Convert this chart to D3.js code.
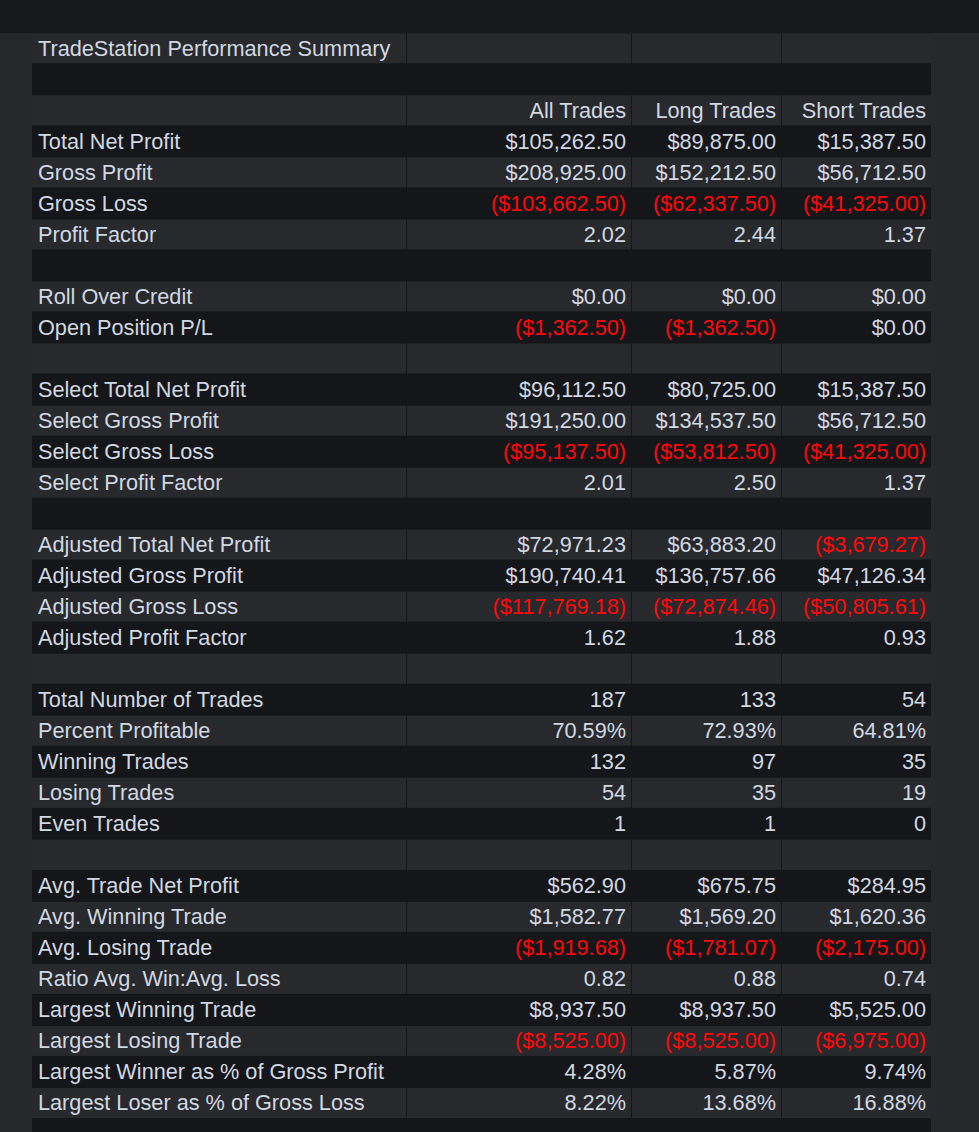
<!DOCTYPE html>
<html lang="en">
<head>
    <meta charset="UTF-8">
    <title>TradeStation Performance Summary</title>
    <script src="https://d3js.org/d3.v7.min.js"></script>
    <style>
        html, body {
            margin: 0;
            padding: 0;
            background: #18191c;
            overflow: hidden;
        }

        .cell-text {
            font-family: "Liberation Sans", Arial, sans-serif;
            font-size: 21.7px;
            fill: #d2d8e1;
        }

        .negative {
            fill: #ff0808;
        }
    </style>
</head>
<body>

<div id="chart"></div>

<script>
    var w = 979;
    var h = 1132;

    var title = "TradeStation Performance Summary";
    var columns = ["All Trades", "Long Trades", "Short Trades"];

    // one entry per table row after the header, "" = spacer row
    var metrics = [
        "Total Net Profit", "Gross Profit", "Gross Loss", "Profit Factor", "",
        "Roll Over Credit", "Open Position P/L", "",
        "Select Total Net Profit", "Select Gross Profit", "Select Gross Loss", "Select Profit Factor", "",
        "Adjusted Total Net Profit", "Adjusted Gross Profit", "Adjusted Gross Loss", "Adjusted Profit Factor", "",
        "Total Number of Trades", "Percent Profitable", "Winning Trades", "Losing Trades", "Even Trades", "",
        "Avg. Trade Net Profit", "Avg. Winning Trade", "Avg. Losing Trade", "Ratio Avg. Win:Avg. Loss",
        "Largest Winning Trade", "Largest Losing Trade",
        "Largest Winner as % of Gross Profit", "Largest Loser as % of Gross Loss", ""
    ];

    // $ = currency, r = ratio, n = count, % = percent
    var formats = [
        "$", "$", "$", "r", "",
        "$", "$", "",
        "$", "$", "$", "r", "",
        "$", "$", "$", "r", "",
        "n", "%", "n", "n", "n", "",
        "$", "$", "$", "r",
        "$", "$",
        "%", "%", ""
    ];

    var allTrades = [
        105262.50, 208925.00, -103662.50, 2.02, null,
        0, -1362.50, null,
        96112.50, 191250.00, -95137.50, 2.01, null,
        72971.23, 190740.41, -117769.18, 1.62, null,
        187, 70.59, 132, 54, 1, null,
        562.90, 1582.77, -1919.68, 0.82,
        8937.50, -8525.00,
        4.28, 8.22, null
    ];

    var longTrades = [
        89875.00, 152212.50, -62337.50, 2.44, null,
        0, -1362.50, null,
        80725.00, 134537.50, -53812.50, 2.50, null,
        63883.20, 136757.66, -72874.46, 1.88, null,
        133, 72.93, 97, 35, 1, null,
        675.75, 1569.20, -1781.07, 0.88,
        8937.50, -8525.00,
        5.87, 13.68, null
    ];

    var shortTrades = [
        15387.50, 56712.50, -41325.00, 1.37, null,
        0, 0, null,
        15387.50, 56712.50, -41325.00, 1.37, null,
        -3679.27, 47126.34, -50805.61, 0.93, null,
        54, 64.81, 35, 19, 0, null,
        284.95, 1620.36, -2175.00, 0.74,
        5525.00, -6975.00,
        9.74, 16.88, null
    ];

    var series = [allTrades, longTrades, shortTrades];

    var money = d3.format(",.2f");
    var fixed2 = d3.format(".2f");

    function formatValue(v, f) {
        if (v === null || v === undefined) return "";
        if (f === "$") return v < 0 ? "($" + money(-v) + ")" : "$" + money(v);
        if (f === "r") return fixed2(v);
        if (f === "%") return fixed2(v) + "%";
        return d3.format("d")(v);
    }

    // build rows: title, spacer, header, then metric rows
    var rows = [];
    rows.push({ cells: [title, "", "", ""], neg: [false, false, false, false] });
    rows.push({ cells: ["", "", "", ""], neg: [false, false, false, false] });
    rows.push({ cells: [""].concat(columns), neg: [false, false, false, false] });
    metrics.forEach(function(m, i) {
        var cells = [m], neg = [false];
        series.forEach(function(s) {
            cells.push(formatValue(s[i], formats[i]));
            neg.push(s[i] !== null && s[i] < 0);
        });
        rows.push({ cells: cells, neg: neg });
    });

    var rowPitch = 31.02;
    var tableTop = 33.3;
    var y = d3.scaleLinear()
        .domain([0, rows.length])
        .range([tableTop, tableTop + rowPitch * rows.length]);

    var colEdges = [32, 407, 632, 782, 932];
    var x = d3.scaleOrdinal()
        .domain([0, 1, 2, 3])
        .range(colEdges.slice(0, 4));

    function colWidth(c) { return colEdges[c + 1] - colEdges[c] - 1; }

    var svg = d3.select("#chart")
        .append("svg")
        .attr("width", w)
        .attr("height", h)
        .style("display", "block");

    // page frame
    svg.append("rect")
        .attr("x", 0).attr("y", 0)
        .attr("width", w).attr("height", 33)
        .attr("fill", "#18191c");
    svg.append("rect")
        .attr("x", 0).attr("y", 33)
        .attr("width", 32).attr("height", h - 33)
        .attr("fill", "#25272b");
    svg.append("rect")
        .attr("x", 931).attr("y", 33)
        .attr("width", w - 931).attr("height", h - 33)
        .attr("fill", "#26282c");
    svg.append("rect")
        .attr("x", 32).attr("y", 33)
        .attr("width", 899).attr("height", h - 33)
        .attr("fill", "#151619");

    var row = svg.selectAll("g.row")
        .data(rows)
        .enter().append("g")
        .attr("class", "row")
        .attr("transform", function(d, i) { return "translate(0," + y(i) + ")"; });

    row.selectAll("rect")
        .data(function(d, i) { return d.cells.map(function(c, j) { return { row: i, col: j }; }); })
        .enter().append("rect")
        .attr("x", function(d) { return x(d.col); })
        .attr("y", 0)
        .attr("width", function(d) { return colWidth(d.col); })
        .attr("height", rowPitch - 1)
        .attr("fill", function(d) { return d.row % 2 === 0 ? "#27292d" : "#151619"; });

    row.selectAll("text")
        .data(function(d) {
            return d.cells.map(function(c, j) { return { text: c, col: j, neg: d.neg[j] }; });
        })
        .enter().append("text")
        .attr("class", function(d) { return "cell-text" + (d.neg ? " negative" : ""); })
        .attr("x", function(d) { return d.col === 0 ? x(0) + 6 : x(d.col) + colWidth(d.col) - 5; })
        .attr("y", 22.3)
        .style("text-anchor", function(d) { return d.col === 0 ? "start" : "end"; })
        .text(function(d) { return d.text; });
</script>

</body>
</html>
